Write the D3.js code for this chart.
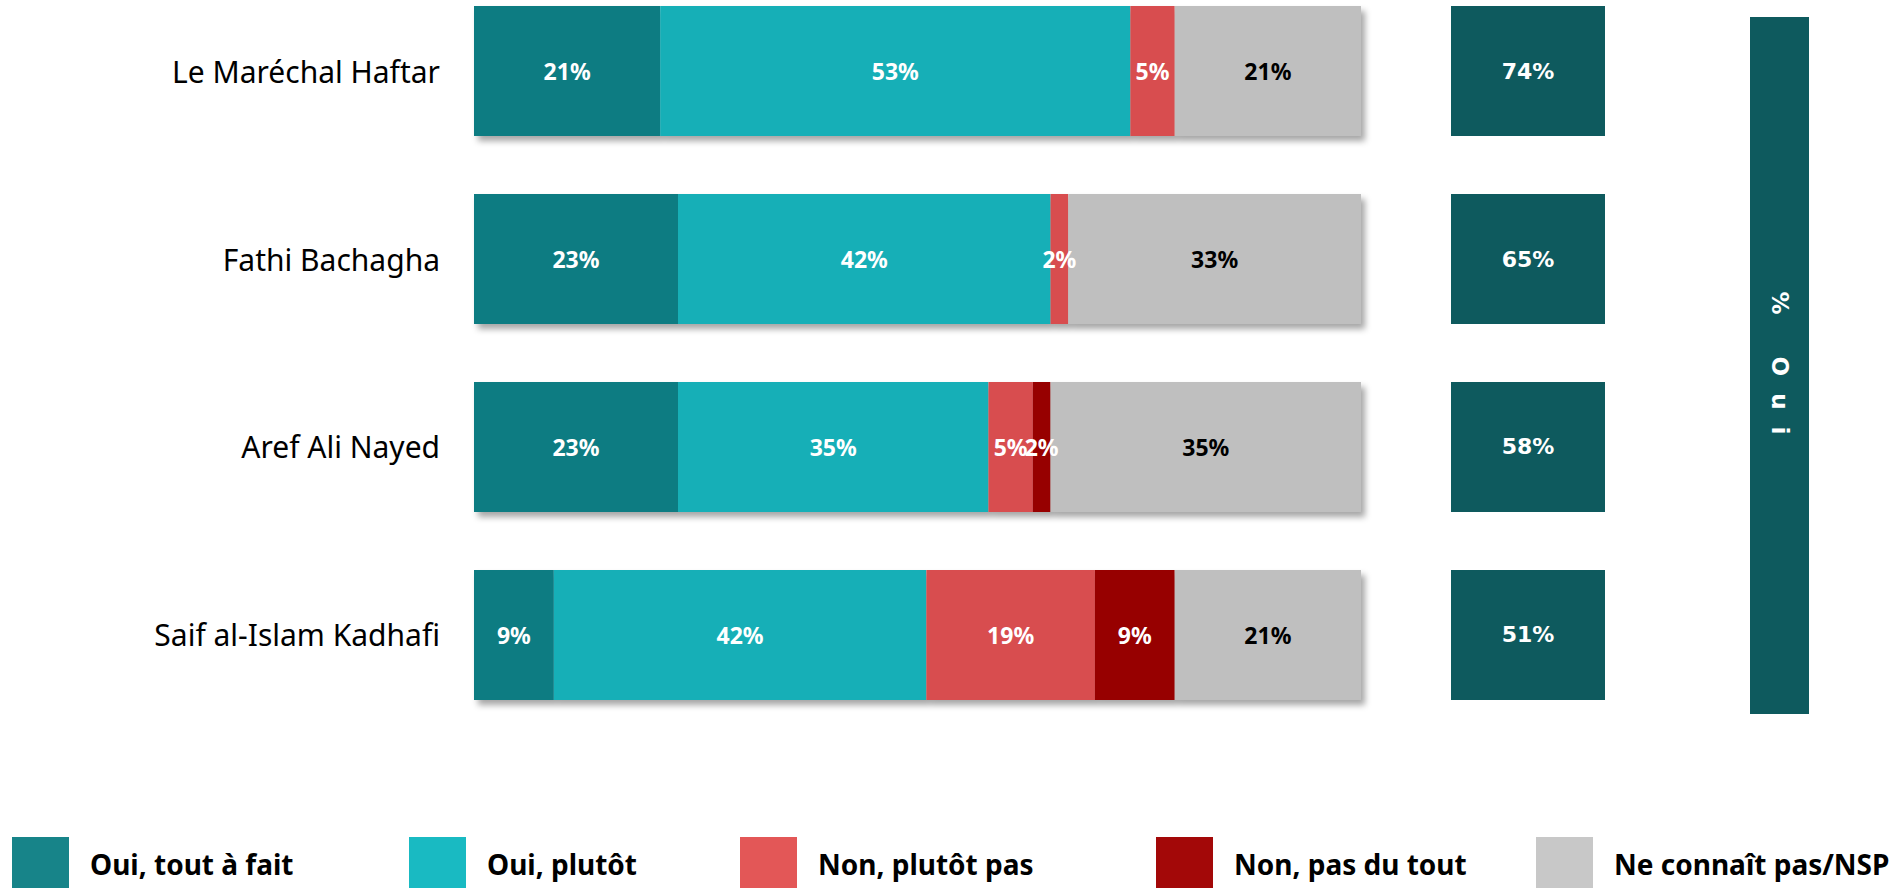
<!DOCTYPE html>
<html>
<head>
<meta charset="utf-8">
<script src="https://cdn.jsdelivr.net/npm/d3@7"></script>
<style>
html,body{margin:0;padding:0;background:#fff;}
svg{display:block;}
</style>
</head>
<body>
<svg id="chart" width="1902" height="888"></svg>
<script>
const categories = ["Le Maréchal Haftar", "Fathi Bachagha", "Aref Ali Nayed", "Saif al-Islam Kadhafi"];
const seriesNames = ["Oui, tout à fait", "Oui, plutôt", "Non, plutôt pas", "Non, pas du tout", "Ne connaît pas/NSP"];
const ouiToutAFait = [21, 23, 23, 9];
const ouiPlutot = [53, 42, 35, 42];
const nonPlutotPas = [5, 2, 5, 19];
const nonPasDuTout = [0, 0, 2, 9];
const nsp = [21, 33, 35, 21];
const totalOui = [74, 65, 58, 51];
const sideTitle = "% Oui";

const barColors = ["#0F7B82", "#13AFB7", "#D84E50", "#970000", "#BFBFBF"];
const legendColors = ["#178489", "#19BAC2", "#E35757", "#A30808", "#C8C8C8"];
const labelColors = ["#fff", "#fff", "#fff", "#fff", "#000"];

const svg = d3.select("#chart");
const defs = svg.append("defs");
const f = defs.append("filter").attr("id", "shadow").attr("x", "-5%").attr("y", "-10%").attr("width", "115%").attr("height", "130%");
f.append("feDropShadow").attr("dx", 4).attr("dy", 5).attr("stdDeviation", 3).attr("flood-color", "#000").attr("flood-opacity", 0.35);

const y = d3.scaleBand().domain(categories).range([6, 700]).paddingInner(0.3085).paddingOuter(0);
const x = d3.scaleLinear().domain([0, 100]).range([474, 1361]);

const seriesVals = [ouiToutAFait, ouiPlutot, nonPlutotPas, nonPasDuTout, nsp];
const rows = categories.map((c, i) => {
  let acc = 0;
  const segs = seriesVals.map((arr, k) => {
    const s = {cat: c, k, v: arr[i], x0: acc, x1: acc + arr[i]};
    acc += arr[i];
    return s;
  });
  return {cat: c, segs};
});

// category labels
svg.append("g").selectAll("text").data(categories).join("text")
  .attr("x", 440).attr("y", d => y(d) + y.bandwidth() / 2)
  .attr("text-anchor", "end").attr("dominant-baseline", "central")
  .attr("font-family", "'Noto Sans', sans-serif").attr("font-size", 30).attr("fill", "#000")
  .text(d => d);

const rowG = svg.append("g").selectAll("g").data(rows).join("g");
const barG = rowG.append("g").attr("filter", "url(#shadow)");
barG.selectAll("rect").data(d => d.segs.filter(s => s.v > 0)).join("rect")
  .attr("x", s => x(s.x0)).attr("width", s => x(s.x1) - x(s.x0))
  .attr("y", s => y(s.cat)).attr("height", y.bandwidth())
  .attr("fill", s => barColors[s.k]);
rowG.append("g").selectAll("text").data(d => d.segs.filter(s => s.v > 0)).join("text")
  .attr("x", s => (x(s.x0) + x(s.x1)) / 2).attr("y", s => y(s.cat) + y.bandwidth() / 2)
  .attr("text-anchor", "middle").attr("dominant-baseline", "central")
  .attr("font-family", "'Noto Sans', sans-serif").attr("font-weight", "bold").attr("font-size", 23)
  .attr("fill", s => labelColors[s.k])
  .text(s => s.v + "%");

// total oui boxes
const tx0 = 1451, tx1 = 1605;
svg.append("g").selectAll("rect").data(categories).join("rect")
  .attr("x", tx0).attr("width", tx1 - tx0).attr("y", d => y(d)).attr("height", y.bandwidth())
  .attr("fill", "#0E5A5E");
svg.append("g").selectAll("text").data(categories).join("text")
  .attr("x", (tx0 + tx1) / 2).attr("y", (d) => y(d) + y.bandwidth() / 2)
  .attr("text-anchor", "middle").attr("dominant-baseline", "central")
  .attr("font-family", "'DejaVu Sans', sans-serif").attr("font-weight", "bold").attr("font-size", 22)
  .attr("fill", "#fff")
  .text((d, i) => totalOui[i] + "%");

// vertical title box
const vx0 = 1750, vx1 = 1809, vy0 = 17, vy1 = 714;
svg.append("rect").attr("x", vx0).attr("y", vy0).attr("width", vx1 - vx0).attr("height", vy1 - vy0).attr("fill", "#0E5A5E");
svg.append("text")
  .attr("transform", `translate(${(vx0 + vx1) / 2},${(vy0 + vy1) / 2 + 6}) rotate(90)`)
  .attr("text-anchor", "middle").attr("dominant-baseline", "central")
  .attr("font-family", "'DejaVu Sans', sans-serif").attr("font-weight", "bold").attr("font-size", 23)
  .attr("letter-spacing", 17).attr("fill", "#fff")
  .text(sideTitle);

// legend
const legX = [12, 409, 740, 1156, 1536];
const lg = svg.append("g").selectAll("g").data(seriesNames).join("g")
  .attr("transform", (d, i) => `translate(${legX[i]},837)`);
lg.append("rect").attr("width", 57).attr("height", 52).attr("fill", (d, i) => legendColors[i]);
lg.append("text").attr("x", 78).attr("y", 38)
  .attr("font-family", "'Noto Sans', sans-serif").attr("font-weight", "bold").attr("font-size", 28).attr("fill", "#000")
  .text(d => d);
</script>
</body>
</html>
